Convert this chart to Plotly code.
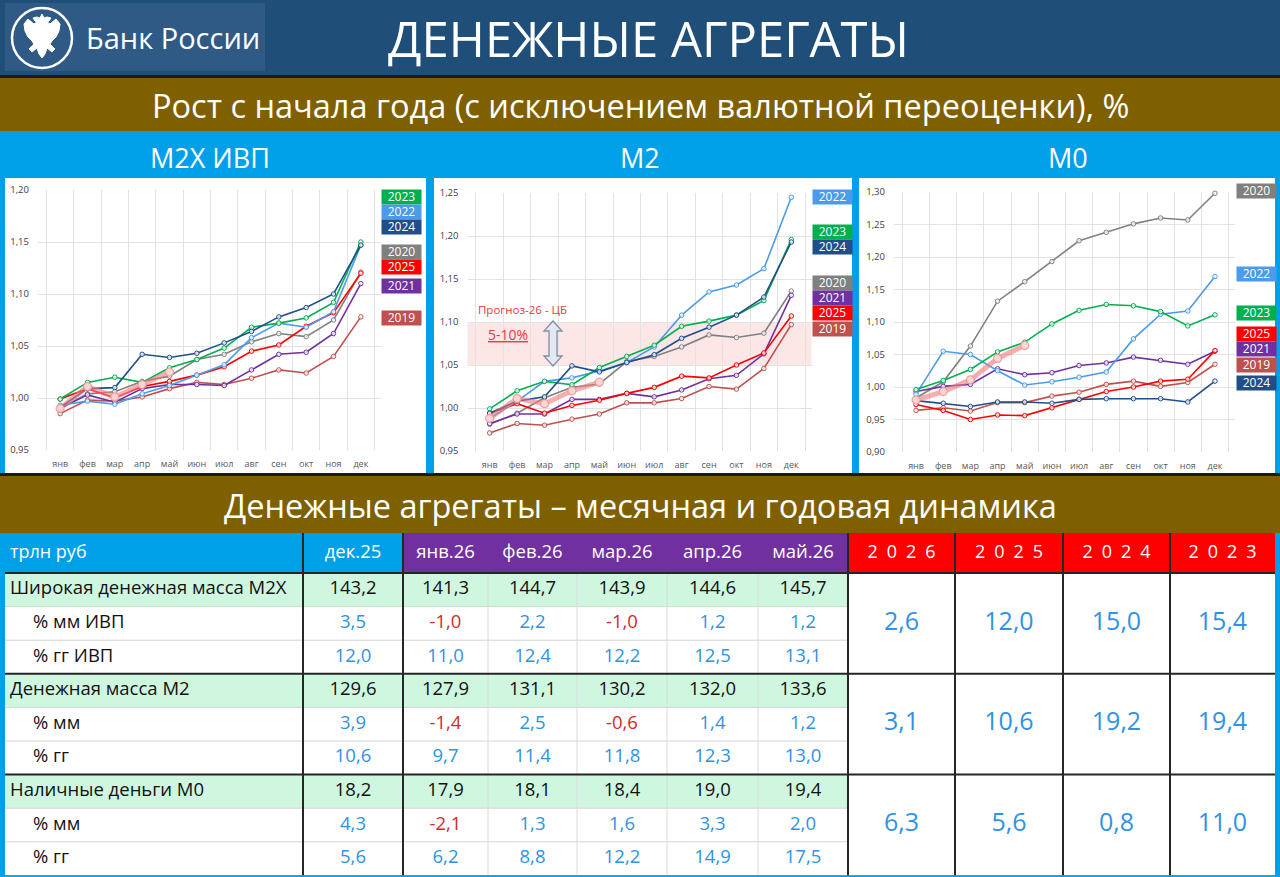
import plotly.graph_objects as go

W, H = 1280, 877
FONT = "Open Sans"

months = ['янв', 'фев', 'мар', 'апр', 'май', 'июн', 'июл', 'авг', 'сен', 'окт', 'ноя', 'дек']

# M2X ИВП, рост с начала года
m2x_2019 = [0.985, 0.998, 0.997, 1.001, 1.009, 1.015, 1.013, 1.019, 1.027, 1.024, 1.040, 1.078]
m2x_2020 = [0.990, 1.004, 1.006, 1.016, 1.021, 1.037, 1.042, 1.054, 1.062, 1.059, 1.075, 1.121]
m2x_2021 = [0.990, 1.003, 0.996, 1.009, 1.013, 1.013, 1.012, 1.027, 1.042, 1.044, 1.062, 1.110]
m2x_2022 = [0.993, 0.997, 0.994, 1.004, 1.012, 1.022, 1.032, 1.058, 1.072, 1.068, 1.083, 1.147]
m2x_2023 = [0.999, 1.015, 1.020, 1.015, 1.029, 1.037, 1.048, 1.068, 1.072, 1.077, 1.092, 1.150]
m2x_2024 = [0.991, 1.009, 1.010, 1.042, 1.039, 1.043, 1.053, 1.064, 1.078, 1.087, 1.100, 1.147]
m2x_2025 = [0.999, 1.009, 1.000, 1.011, 1.016, 1.022, 1.030, 1.045, 1.051, 1.069, 1.082, 1.120]
m2x_2026 = [0.990, 1.011, 1.001, 1.013, 1.025]

# M2
m2_2019 = [0.971, 0.982, 0.980, 0.987, 0.993, 1.006, 1.006, 1.011, 1.025, 1.022, 1.046, 1.097]
m2_2020 = [0.981, 0.994, 1.012, 1.024, 1.028, 1.054, 1.060, 1.071, 1.085, 1.082, 1.087, 1.136]
m2_2021 = [0.982, 0.993, 0.993, 1.010, 1.010, 1.017, 1.013, 1.021, 1.034, 1.038, 1.063, 1.131]
m2_2022 = [0.988, 1.008, 1.031, 1.035, 1.043, 1.053, 1.071, 1.108, 1.135, 1.143, 1.162, 1.245]
m2_2023 = [0.999, 1.020, 1.031, 1.027, 1.047, 1.060, 1.073, 1.095, 1.101, 1.108, 1.125, 1.196]
m2_2024 = [0.994, 1.008, 1.013, 1.049, 1.042, 1.053, 1.062, 1.081, 1.094, 1.108, 1.129, 1.193]
m2_2025 = [0.994, 1.005, 0.994, 1.003, 1.009, 1.017, 1.024, 1.037, 1.035, 1.050, 1.064, 1.107]
m2_2026 = [0.988, 1.011, 1.005, 1.020, 1.030]

# M0
m0_2019 = [0.964, 0.968, 0.963, 0.976, 0.976, 0.986, 0.992, 1.004, 1.009, 1.001, 1.007, 1.035]
m0_2020 = [0.983, 1.008, 1.063, 1.132, 1.162, 1.193, 1.225, 1.238, 1.251, 1.260, 1.257, 1.298]
m0_2021 = [0.993, 1.001, 1.004, 1.028, 1.019, 1.022, 1.033, 1.037, 1.046, 1.041, 1.035, 1.055]
m0_2022 = [0.989, 1.055, 1.050, 1.025, 1.003, 1.008, 1.015, 1.023, 1.074, 1.112, 1.117, 1.170]
m0_2023 = [0.996, 1.010, 1.027, 1.054, 1.069, 1.097, 1.118, 1.127, 1.125, 1.116, 1.094, 1.111]
m0_2024 = [0.979, 0.975, 0.970, 0.977, 0.977, 0.975, 0.981, 0.982, 0.982, 0.982, 0.977, 1.009]
m0_2025 = [0.973, 0.964, 0.950, 0.957, 0.956, 0.968, 0.981, 0.993, 1.000, 1.009, 1.012, 1.056]
m0_2026 = [0.980, 0.993, 1.011, 1.044, 1.064]

# legend order (top to bottom) next to each chart
m2x_legend = ['2023', '2022', '2024', '2020', '2025', '2021', '2019']
m2_legend = ['2022', '2023', '2024', '2020', '2021', '2025', '2019']
m0_legend = ['2020', '2022', '2023', '2025', '2021', '2019', '2024']

# table
row_labels = ['Широкая денежная масса M2X', '% мм ИВП', '% гг ИВП',
              'Денежная масса M2', '% мм', '% гг',
              'Наличные деньги M0', '% мм', '% гг']
month_cols = ['дек.25', 'янв.26', 'фев.26', 'мар.26', 'апр.26', 'май.26']
m2x_level = [143.2, 141.3, 144.7, 143.9, 144.6, 145.7]
m2x_mm = [3.5, -1.0, 2.2, -1.0, 1.2, 1.2]
m2x_yy = [12.0, 11.0, 12.4, 12.2, 12.5, 13.1]
m2_level = [129.6, 127.9, 131.1, 130.2, 132.0, 133.6]
m2_mm = [3.9, -1.4, 2.5, -0.6, 1.4, 1.2]
m2_yy = [10.6, 9.7, 11.4, 11.8, 12.3, 13.0]
m0_level = [18.2, 17.9, 18.1, 18.4, 19.0, 19.4]
m0_mm = [4.3, -2.1, 1.3, 1.6, 3.3, 2.0]
m0_yy = [5.6, 6.2, 8.8, 12.2, 14.9, 17.5]
year_cols = ['2026', '2025', '2024', '2023']
m2x_year = [2.6, 12.0, 15.0, 15.4]
m2_year = [3.1, 10.6, 19.2, 19.4]
m0_year = [6.3, 5.6, 0.8, 11.0]

# colours
NAVY = '#1F4E79'
BROWN = '#7F6000'
BLUE = '#00A0E9'
year_colors = {'2019': '#C0504D', '2020': '#808080', '2021': '#7030A0', '2022': '#4A9BEA',
               '2023': '#00B050', '2024': '#1F4E89', '2025': '#FF0000'}


def px(x):
    return x / W


def py(y):
    return 1 - y / H


def fmt(v):
    return f'{v:.1f}'.replace('.', ',')


shapes = []
annotations = []


def rect(x0, y0, x1, y1, color, line=None):
    shapes.append(dict(type='rect', xref='paper', yref='paper', layer='below',
                       x0=px(x0), x1=px(x1), y0=py(y1), y1=py(y0), fillcolor=color,
                       line=dict(width=0) if line is None else line))


def hline(x0, x1, y, color, width):
    shapes.append(dict(type='line', xref='paper', yref='paper', layer='below',
                       x0=px(x0), x1=px(x1), y0=py(y), y1=py(y), line=dict(color=color, width=width)))


def vline(x, y0, y1, color, width):
    shapes.append(dict(type='line', xref='paper', yref='paper', layer='below',
                       x0=px(x), x1=px(x), y0=py(y0), y1=py(y1), line=dict(color=color, width=width)))


def text(x, y, s, size, color='white', xanchor='center'):
    annotations.append(dict(x=px(x), y=py(y), xref='paper', yref='paper', text=s, showarrow=False,
                            xanchor=xanchor, yanchor='middle', font=dict(family=FONT, size=size, color=color)))


# ---- page bands ----
rect(0, 0, W, 75, NAVY)
rect(5, 3, 265, 71, '#2E5A85')
hline(0, W, 76.5, '#1a1a1a', 3)
rect(0, 78, W, 131, BROWN)
rect(0, 131, W, 178, BLUE)
rect(5, 178, 426, 473, 'white')
rect(434, 178, 852, 473, 'white')
rect(859, 178, 1275, 473, 'white')
hline(0, W, 474.5, '#1a1a1a', 3)
rect(0, 476, W, 533, BROWN)

# logo: ring with a rough double-headed eagle
shapes.append(dict(type='circle', xref='paper', yref='paper', layer='below',
                   x0=px(12), x1=px(72), y0=py(68), y1=py(8), line=dict(color='white', width=2.5)))
eagle = [(42, 14), (44, 18), (47, 17), (51, 18), (49, 21), (47, 22), (50, 24), (56, 19), (60, 24),
         (59, 31), (56, 37), (52, 41), (50, 44), (55, 49), (52, 52), (47, 48), (45, 54), (42, 58),
         (39, 54), (37, 48), (32, 52), (29, 49), (34, 44), (32, 41), (28, 37), (25, 31), (24, 24),
         (28, 19), (34, 24), (37, 22), (35, 21), (33, 18), (37, 17), (40, 18)]
shapes.append(dict(type='path', xref='paper', yref='paper', layer='below',
                   path='M ' + ' L '.join(f'{px(a):.5f},{py(b):.5f}' for a, b in eagle) + ' Z',
                   fillcolor='white', line=dict(color='white', width=1)))
text(84, 38, 'Банк России', 29, xanchor='left')

text(648, 38, 'ДЕНЕЖНЫЕ АГРЕГАТЫ', 49)
text(640, 105, 'Рост с начала года (с исключением валютной переоценки), %', 32.5)
text(210, 157, 'M2X ИВП', 27)
text(640, 157, 'M2', 27)
text(1068, 157, 'M0', 27)
text(640, 505, 'Денежные агрегаты – месячная и годовая динамика', 32.5)

# ---- charts ----
fig = go.Figure()

charts = [
    (dict(zip(year_colors, [m2x_2019, m2x_2020, m2x_2021, m2x_2022, m2x_2023, m2x_2024, m2x_2025])),
     m2x_2026, m2x_legend, (38, 381, 190, 450), [0.95, 1.20],
     [197.5, 212.5, 227.5, 252, 266.5, 286, 318], 401),
    (dict(zip(year_colors, [m2_2019, m2_2020, m2_2021, m2_2022, m2_2023, m2_2024, m2_2025])),
     m2_2026, m2_legend, (467.5, 811.5, 193, 451), [0.95, 1.25],
     [197, 232, 247, 283, 298, 313, 329], 832),
    (dict(zip(year_colors, [m0_2019, m0_2020, m0_2021, m0_2022, m0_2023, m0_2024, m0_2025])),
     m0_2026, m0_legend, (894, 1235, 192, 452), [0.90, 1.30],
     [191, 274, 313, 334, 349, 364.5, 383], 1256),
]

draw_order = ['2019', '2020', '2021', '2025', '2022', '2023', '2024']
layout_axes = {}
for i, (series, cur, legend, dom, yr, leg_y, leg_x) in enumerate(charts, start=1):
    xa = 'x' if i == 1 else f'x{i}'
    ya = 'y' if i == 1 else f'y{i}'
    for yr_name in draw_order:
        col = year_colors[yr_name]
        fig.add_trace(go.Scatter(x=months, y=series[yr_name], mode='lines+markers', xaxis=xa, yaxis=ya,
                                 line=dict(color=col, width=1.6),
                                 marker=dict(size=4.5, color='rgba(255,255,255,0.75)', line=dict(color=col, width=1)),
                                 showlegend=False, hoverinfo='skip', cliponaxis=False))
    fig.add_trace(go.Scatter(x=months[:len(cur)], y=cur, mode='lines+markers', xaxis=xa, yaxis=ya,
                             line=dict(color='rgba(242,120,120,0.6)', width=5),
                             marker=dict(size=8, color='rgba(252,218,218,0.9)',
                                         line=dict(color='rgba(242,140,140,0.8)', width=1.2)),
                             showlegend=False, hoverinfo='skip'))
    key = '' if i == 1 else str(i)
    layout_axes['xaxis' + key] = dict(domain=[px(dom[0]), px(dom[1])], anchor=ya, type='category',
                                      categoryorder='array', categoryarray=months, tickson='boundaries',
                                      showgrid=True, gridcolor='#E3E3E3', gridwidth=1, ticks='',
                                      showline=False, zeroline=False, fixedrange=True, ticklabelstandoff=7,
                                      automargin=False, tickangle=0,
                                      tickfont=dict(family=FONT, size=9, color='#595959'))
    layout_axes['yaxis' + key] = dict(domain=[py(dom[3]), py(dom[2])], anchor=xa, range=yr,
                                      tick0=yr[0], dtick=0.05, tickformat='.2f', showgrid=True,
                                      gridcolor='#E3E3E3', gridwidth=1, zeroline=False, ticks='',
                                      showline=False, fixedrange=True, ticklabelstandoff=8,
                                      automargin=False,
                                      tickfont=dict(family=FONT, size=9.5, color='#404040'))
    for name, yy in zip(legend, leg_y):
        annotations.append(dict(x=px(leg_x), y=py(yy), xref='paper', yref='paper', text=name,
                                showarrow=False, bgcolor=year_colors[name], width=39, height=13.5,
                                borderpad=0, xanchor='center', yanchor='middle',
                                font=dict(family=FONT, size=12, color='white')))

# M2 forecast band
shapes.append(dict(type='rect', xref='x2 domain', yref='y2', layer='below', x0=0, x1=1,
                   y0=1.05, y1=1.10, fillcolor='#FCE6E6', line=dict(width=0)))
annotations.append(dict(x=1.2, y=1.115, xref='x2', yref='y2', text='Прогноз-26 - ЦБ', showarrow=False,
                        font=dict(family=FONT, size=11.5, color='#E8393C')))
annotations.append(dict(x=0.68, y=1.085, xref='x2', yref='y2', text='<u>5-10%</u>', showarrow=False,
                        font=dict(family=FONT, size=14, color='#E8393C')))
arrow = [(553, 321), (562, 331), (557, 331), (557, 356), (562, 356), (553, 366),
         (544, 356), (549, 356), (549, 331), (544, 331)]
shapes.append(dict(type='path', xref='paper', yref='paper', layer='above',
                   path='M ' + ' L '.join(f'{px(a):.5f},{py(b):.5f}' for a, b in arrow) + ' Z',
                   fillcolor='#E4E8F0', line=dict(color='#7F8FA9', width=1.3)))

# ---- table ----
col_edges = [5, 303, 403, 488, 577, 667, 758, 848, 955, 1063, 1170, 1275]
head_top, head_bot, row_h = 533, 573, 33.6
row_top = [head_bot + k * row_h for k in range(9)]
tab_bot = head_bot + 9 * row_h

rect(5, head_top, 403, head_bot, BLUE)
rect(403, head_top, 848, head_bot, '#7030A0')
rect(848, head_top, 1275, head_bot, '#FF0000')
rect(5, head_bot, 1275, tab_bot, 'white')
for k in (0, 3, 6):
    rect(5, row_top[k], 848, row_top[k] + row_h, '#CFF7E0')

for k in range(9):
    if k not in (0, 3, 6):
        hline(5, 848, row_top[k], '#D4D4D4', 1)
for x in col_edges[3:7]:
    vline(x, head_bot, tab_bot, '#DADADA', 1)
for y in (head_bot, row_top[3], row_top[6]):
    hline(5, 1275, y, '#262626', 2)
for x in (303, 403, 848, 955, 1063, 1170):
    vline(x, head_top, tab_bot, '#262626', 2)
hline(0, W, tab_bot + 0.8, BLUE, 2)

tx, ty, tt, tc, tp, tsz = [], [], [], [], [], []


def cell(x, y, s, color, pos='middle center', size=18.5):
    tx.append(x)
    ty.append(y)
    tt.append(s)
    tc.append(color)
    tp.append(pos)
    tsz.append(size)


cell(10, (head_top + head_bot) / 2, 'трлн руб', 'white', 'middle right', 18)
for j, name in enumerate(month_cols):
    cell((col_edges[j + 1] + col_edges[j + 2]) / 2, (head_top + head_bot) / 2, name, 'white', size=18.5)
for j, name in enumerate(year_cols):
    cell((col_edges[j + 7] + col_edges[j + 8]) / 2, (head_top + head_bot) / 2, '\u2002'.join(name),
         'white', size=18)

rows = [m2x_level, m2x_mm, m2x_yy, m2_level, m2_mm, m2_yy, m0_level, m0_mm, m0_yy]
for k, (label, vals) in enumerate(zip(row_labels, rows)):
    yc = row_top[k] + row_h / 2
    main = k % 3 == 0
    cell(10 if main else 33, yc, label, '#111111', 'middle right')
    for j, v in enumerate(vals):
        col = '#111111' if main else ('#D42A2A' if v < 0 else '#2E93E6')
        cell((col_edges[j + 1] + col_edges[j + 2]) / 2, yc, fmt(v), col)

fig.add_trace(go.Scatter(x=tx, y=ty, text=tt, mode='text', textposition=tp, xaxis='x4', yaxis='y4',
                         textfont=dict(family=FONT, size=tsz, color=tc), showlegend=False,
                         hoverinfo='skip', cliponaxis=False))

bx, by, bt = [], [], []
for k, vals in zip((0, 3, 6), (m2x_year, m2_year, m0_year)):
    for j, v in enumerate(vals):
        bx.append((col_edges[j + 7] + col_edges[j + 8]) / 2)
        by.append(row_top[k] + 1.5 * row_h)
        bt.append(fmt(v))
fig.add_trace(go.Scatter(x=bx, y=by, text=bt, mode='text', xaxis='x4', yaxis='y4',
                         textfont=dict(family=FONT, size=25, color='#2E93E6'), showlegend=False,
                         hoverinfo='skip', cliponaxis=False))

fig.update_layout(
    width=W, height=H, autosize=False,
    margin=dict(l=0, r=0, t=0, b=0, pad=0, autoexpand=False),
    paper_bgcolor=BLUE, plot_bgcolor='rgba(0,0,0,0)',
    separators=', ',
    font=dict(family=FONT),
    shapes=shapes, annotations=annotations,
    xaxis4=dict(domain=[0, 1], range=[0, W], visible=False, anchor='y4', fixedrange=True),
    yaxis4=dict(domain=[0, 1], range=[H, 0], visible=False, anchor='x4', fixedrange=True),
    **layout_axes,
)

# pin the figure to the window's top-left corner (no body margin, no scrolling)
pin = """
document.documentElement.style.margin='0';
document.body.style.margin='0';
document.documentElement.style.overflow='hidden';
document.body.style.overflow='hidden';
var gd = document.getElementsByClassName('plotly-graph-div')[0];
gd.style.position='fixed'; gd.style.left='0px'; gd.style.top='0px';
"""
fig.write_html("out.html", config={'displayModeBar': False}, post_script=pin)
